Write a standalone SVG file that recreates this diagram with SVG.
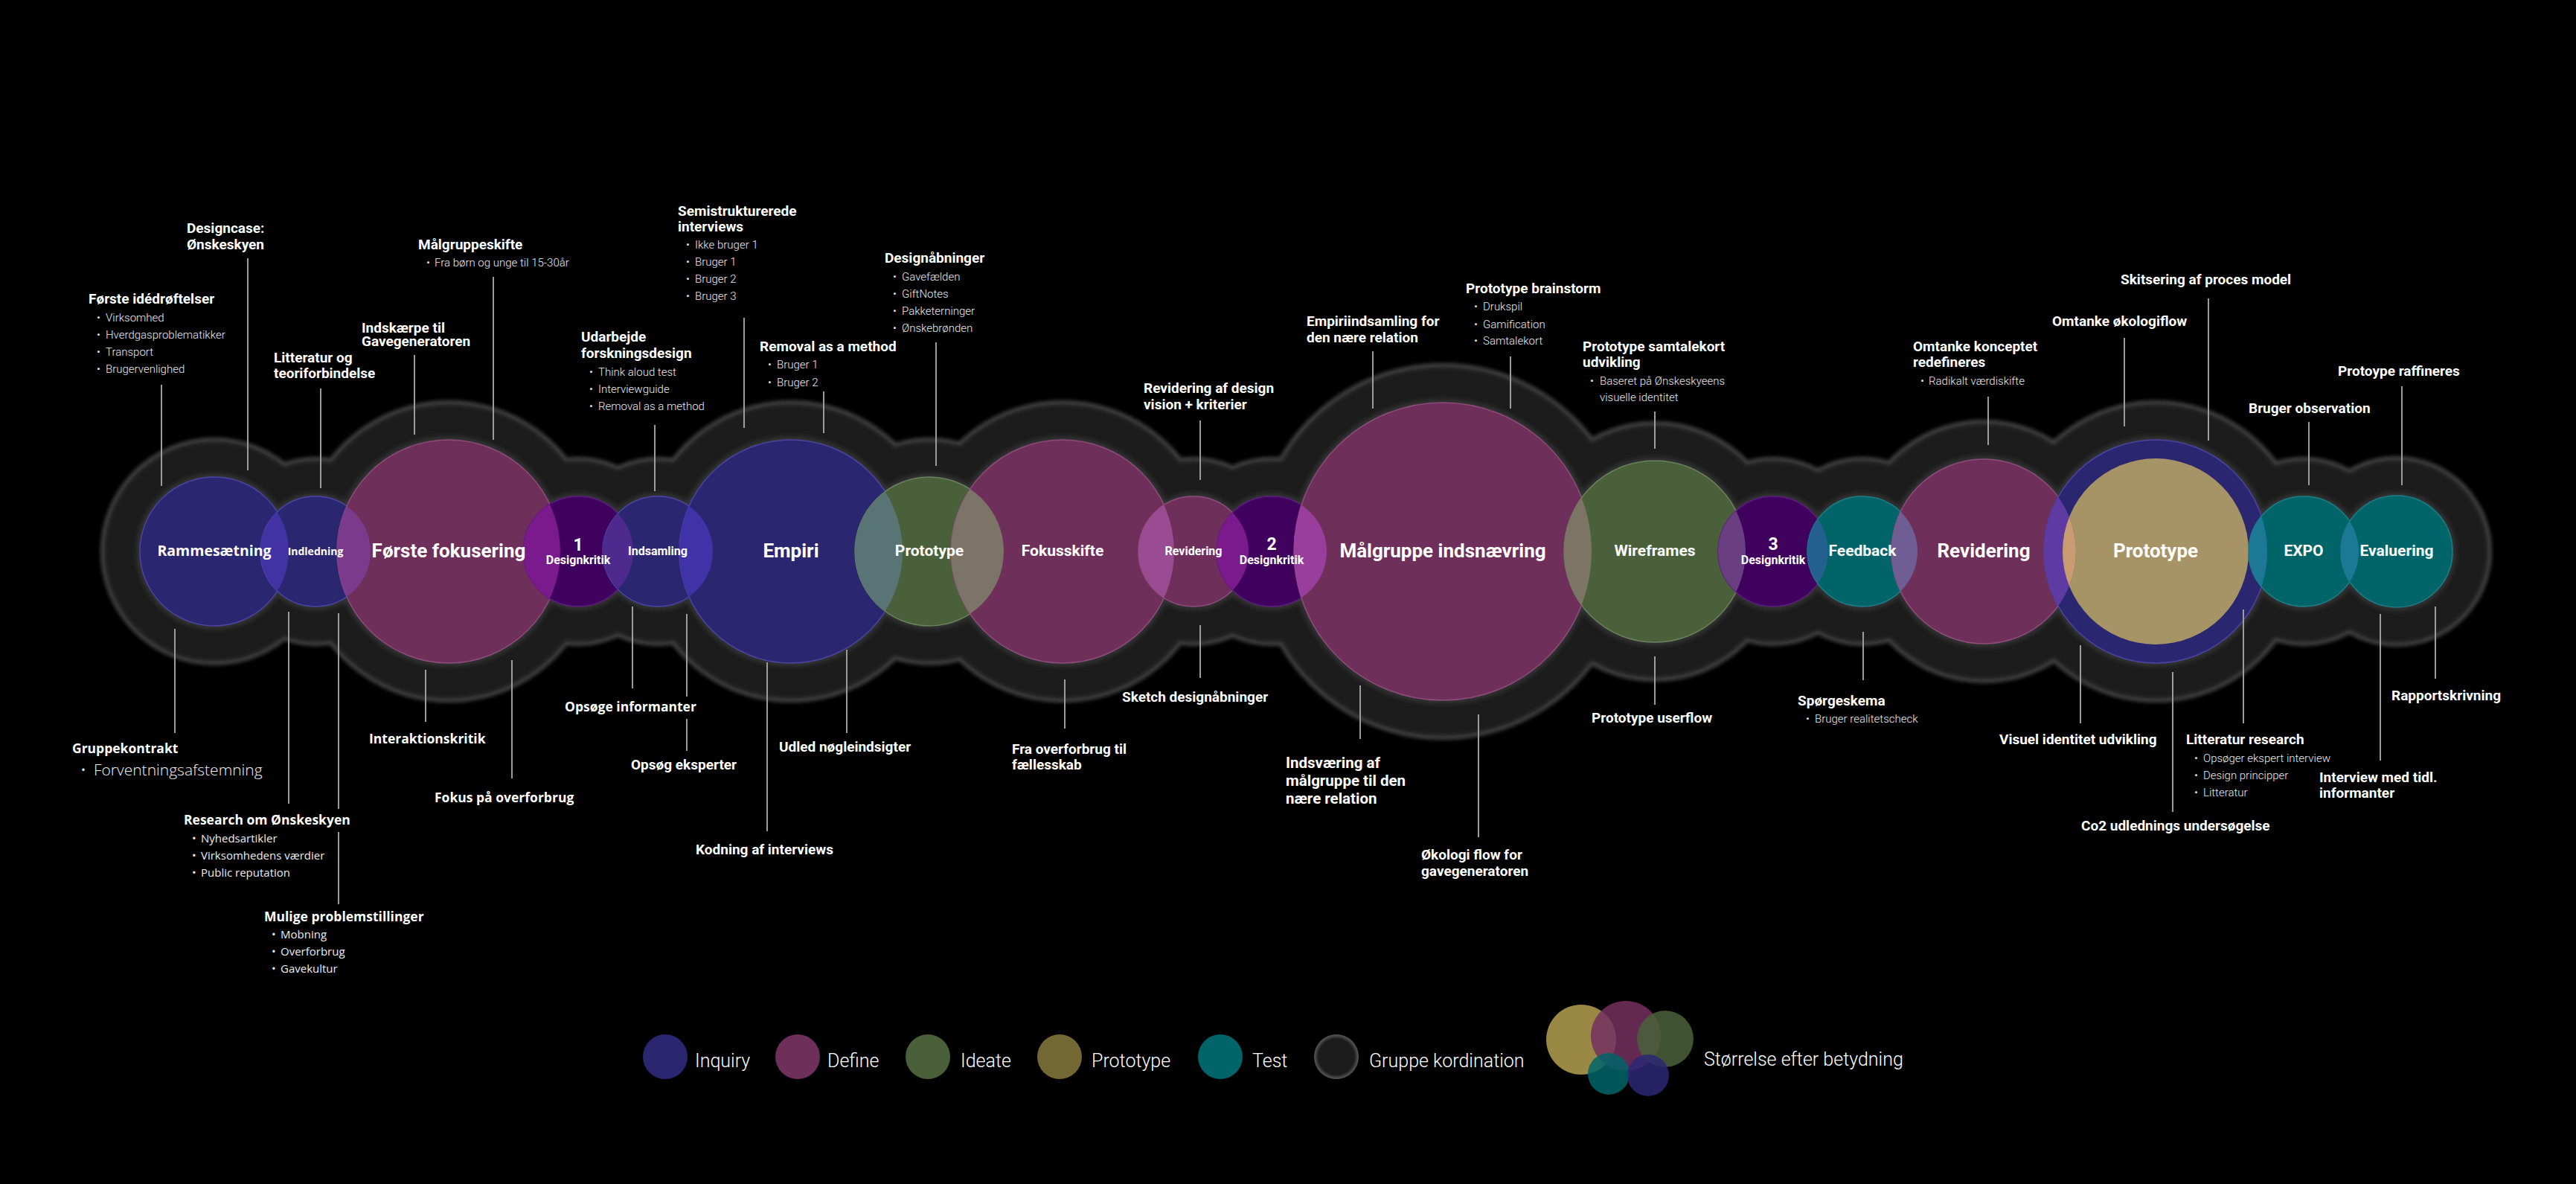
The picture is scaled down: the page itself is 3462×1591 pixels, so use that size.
<svg xmlns="http://www.w3.org/2000/svg" width="3462" height="1591" viewBox="0 0 3462 1591">
<style>
.t{font-family:Roboto,"Liberation Sans",Arial,sans-serif;font-weight:700;font-size:19px;fill:#fff}
.t2{font-family:Roboto,"Liberation Sans",Arial,sans-serif;font-weight:700;font-size:20.5px;fill:#fff}
.w{font-family:"Open Sans","Liberation Sans",Arial,sans-serif;font-weight:700;font-size:17.5px;fill:#fff}
.b{font-family:Roboto,"Liberation Sans",Arial,sans-serif;font-weight:300;font-size:15px;fill:#ececec}
.bw{font-family:"Open Sans","Liberation Sans",Arial,sans-serif;font-weight:400;font-size:15px;fill:#ececec}
.bw2{font-family:"Open Sans","Liberation Sans",Arial,sans-serif;font-weight:300;font-size:21px;fill:#f2f2f2}
.big{font-family:Roboto,"Liberation Sans",Arial,sans-serif;font-weight:700;font-size:26px;fill:#fff;text-anchor:middle}
.mid{font-family:Roboto,"Liberation Sans",Arial,sans-serif;font-weight:700;font-size:21px;fill:#fff;text-anchor:middle}
.sm{font-family:Roboto,"Liberation Sans",Arial,sans-serif;font-weight:700;font-size:16px;fill:#fff;text-anchor:middle}
.num{font-family:Roboto,"Liberation Sans",Arial,sans-serif;font-weight:700;font-size:23px;fill:#fff;text-anchor:middle}
.ram{font-family:"Open Sans","Liberation Sans",Arial,sans-serif;font-weight:700;font-size:19.5px;fill:#fff;text-anchor:middle}
.ind{font-family:"Open Sans","Liberation Sans",Arial,sans-serif;font-weight:700;font-size:14px;fill:#fff;text-anchor:middle}
.lg{font-family:Roboto,"Liberation Sans",Arial,sans-serif;font-weight:300;font-size:25px;fill:#fff}
.ln{stroke:#9c9c9c;stroke-width:2;fill:none}
.inq{fill:#2b2670;stroke:#4b44a6;stroke-width:1.5}
.def{fill:#6e2f5b;stroke:#8e4c7c;stroke-width:1.5}
.ide{fill:#4a603a;stroke:#6a825a;stroke-width:1.5}
.dk{fill:#40005e;stroke:#5e1c82;stroke-width:1.5}
.tst{fill:#006468;stroke:#1a8088;stroke-width:1.5}
.edge circle{fill:#444}
.fillg circle{fill:#1c1c1c}
.halo circle{fill:#383838}
</style>
<defs>
<filter id="bl" x="-5%" y="-20%" width="110%" height="140%"><feGaussianBlur stdDeviation="2.5"/></filter>
<filter id="bl2" x="-5%" y="-20%" width="110%" height="140%"><feGaussianBlur stdDeviation="3.5"/></filter>
<radialGradient id="gk"><stop offset="0.8" stop-color="#1c1c1c"/><stop offset="1" stop-color="#5a5a5a"/></radialGradient>
<clipPath id="c-ramme"><circle cx="288" cy="741" r="100"/></clipPath>
<clipPath id="c-indl"><circle cx="424" cy="741" r="74"/></clipPath>
<clipPath id="c-forste"><circle cx="603" cy="741" r="150"/></clipPath>
<clipPath id="c-dk1"><circle cx="777" cy="741" r="74"/></clipPath>
<clipPath id="c-inds"><circle cx="884" cy="741" r="74"/></clipPath>
<clipPath id="c-empiri"><circle cx="1063" cy="741" r="150"/></clipPath>
<clipPath id="c-proto1"><circle cx="1249" cy="741" r="100"/></clipPath>
<clipPath id="c-fokus"><circle cx="1428" cy="741" r="150"/></clipPath>
<clipPath id="c-rev1"><circle cx="1604" cy="741" r="74"/></clipPath>
<clipPath id="c-dk2"><circle cx="1709" cy="741" r="74"/></clipPath>
<clipPath id="c-maal"><circle cx="1939" cy="741" r="200"/></clipPath>
<clipPath id="c-wire"><circle cx="2224" cy="741" r="122"/></clipPath>
<clipPath id="c-dk3"><circle cx="2383" cy="741" r="74"/></clipPath>
<clipPath id="c-feed"><circle cx="2503" cy="741" r="74"/></clipPath>
<clipPath id="c-rev2"><circle cx="2666" cy="741" r="124"/></clipPath>
<clipPath id="c-protoB"><circle cx="2897" cy="741" r="150"/></clipPath>
<clipPath id="c-beige"><circle cx="2897" cy="741" r="125"/></clipPath>
<clipPath id="c-expo"><circle cx="3096" cy="741" r="74"/></clipPath>
</defs>
<rect width="3462" height="1591" fill="#000"/>

<g id="gruppe-kordination-band">
<g class="edge" filter="url(#bl)">
<circle cx="288" cy="741" r="153"/><circle cx="424" cy="741" r="127"/><circle cx="603" cy="741" r="203"/><circle cx="777" cy="741" r="127"/><circle cx="884" cy="741" r="127"/><circle cx="1063" cy="741" r="203"/><circle cx="1249" cy="741" r="153"/><circle cx="1428" cy="741" r="203"/><circle cx="1604" cy="741" r="127"/><circle cx="1709" cy="741" r="127"/><circle cx="1939" cy="741" r="253"/><circle cx="2224" cy="741" r="175"/><circle cx="2383" cy="741" r="127"/><circle cx="2503" cy="741" r="127"/><circle cx="2666" cy="741" r="177"/><circle cx="2897" cy="741" r="203"/><circle cx="3096" cy="741" r="127"/><circle cx="3221" cy="741" r="128"/>
</g>
<g class="fillg" filter="url(#bl)">
<circle cx="288" cy="741" r="148"/><circle cx="424" cy="741" r="122"/><circle cx="603" cy="741" r="198"/><circle cx="777" cy="741" r="122"/><circle cx="884" cy="741" r="122"/><circle cx="1063" cy="741" r="198"/><circle cx="1249" cy="741" r="148"/><circle cx="1428" cy="741" r="198"/><circle cx="1604" cy="741" r="122"/><circle cx="1709" cy="741" r="122"/><circle cx="1939" cy="741" r="248"/><circle cx="2224" cy="741" r="170"/><circle cx="2383" cy="741" r="122"/><circle cx="2503" cy="741" r="122"/><circle cx="2666" cy="741" r="172"/><circle cx="2897" cy="741" r="198"/><circle cx="3096" cy="741" r="122"/><circle cx="3221" cy="741" r="123"/>
</g>
<g class="halo" filter="url(#bl2)">
<circle cx="288" cy="741" r="104"/><circle cx="424" cy="741" r="78"/><circle cx="603" cy="741" r="154"/><circle cx="777" cy="741" r="78"/><circle cx="884" cy="741" r="78"/><circle cx="1063" cy="741" r="154"/><circle cx="1249" cy="741" r="104"/><circle cx="1428" cy="741" r="154"/><circle cx="1604" cy="741" r="78"/><circle cx="1709" cy="741" r="78"/><circle cx="1939" cy="741" r="204"/><circle cx="2224" cy="741" r="126"/><circle cx="2383" cy="741" r="78"/><circle cx="2503" cy="741" r="78"/><circle cx="2666" cy="741" r="128"/><circle cx="2897" cy="741" r="154"/><circle cx="3096" cy="741" r="78"/><circle cx="3221" cy="741" r="79"/>
</g>
</g>

<g id="node-rammesaetning"><circle class="inq" cx="288" cy="741" r="100"/></g>
<g id="node-indledning"><circle class="inq" cx="424" cy="741" r="74"/></g>
<g id="node-forste-fokusering"><circle class="def" cx="603" cy="741" r="150"/></g>
<g id="node-designkritik-1"><circle class="dk" cx="777" cy="741" r="74"/></g>
<g id="node-indsamling"><circle class="inq" cx="884" cy="741" r="74"/></g>
<g id="node-empiri"><circle class="inq" cx="1063" cy="741" r="150"/></g>
<g id="node-prototype-1"><circle class="ide" cx="1249" cy="741" r="100"/></g>
<g id="node-fokusskifte"><circle class="def" cx="1428" cy="741" r="150"/></g>
<g id="node-revidering-1"><circle class="def" cx="1604" cy="741" r="74"/></g>
<g id="node-designkritik-2"><circle class="dk" cx="1709" cy="741" r="74"/></g>
<g id="node-malgruppe-indsnaevring"><circle class="def" cx="1939" cy="741" r="200"/></g>
<g id="node-wireframes"><circle class="ide" cx="2224" cy="741" r="122"/></g>
<g id="node-designkritik-3"><circle class="dk" cx="2383" cy="741" r="74"/></g>
<g id="node-feedback"><circle class="tst" cx="2503" cy="741" r="74"/></g>
<g id="node-revidering-2"><circle class="def" cx="2666" cy="741" r="124"/></g>
<g id="node-prototype-2"><circle class="inq" cx="2897" cy="741" r="150"/><circle cx="2897" cy="741" r="125" fill="#a69466"/></g>
<g id="node-expo"><circle class="tst" cx="3096" cy="741" r="74"/></g>
<g id="node-evaluering"><circle class="tst" cx="3221" cy="741" r="75"/></g>

<g id="overlaps">
<circle cx="424" cy="741" r="74" clip-path="url(#c-ramme)" fill="#4232a4"/>
<circle cx="603" cy="741" r="150" clip-path="url(#c-indl)" fill="#7b3a8c"/>
<circle cx="777" cy="741" r="74" clip-path="url(#c-forste)" fill="#7b1a8d"/>
<circle cx="884" cy="741" r="74" clip-path="url(#c-dk1)" fill="#4e2a8e"/>
<circle cx="1063" cy="741" r="150" clip-path="url(#c-inds)" fill="#4232a8"/>
<circle cx="1249" cy="741" r="100" clip-path="url(#c-empiri)" fill="#587475"/>
<circle cx="1428" cy="741" r="150" clip-path="url(#c-proto1)" fill="#7c7466"/>
<circle cx="1604" cy="741" r="74" clip-path="url(#c-fokus)" fill="#9a4b92"/>
<circle cx="1709" cy="741" r="74" clip-path="url(#c-rev1)" fill="#7b1a8d"/>
<circle cx="1939" cy="741" r="200" clip-path="url(#c-dk2)" fill="#993e9c"/>
<circle cx="2224" cy="741" r="122" clip-path="url(#c-maal)" fill="#7c7464"/>
<circle cx="2383" cy="741" r="74" clip-path="url(#c-wire)" fill="#6a3f82"/>
<circle cx="2503" cy="741" r="74" clip-path="url(#c-dk3)" fill="#24608e"/>
<circle cx="2666" cy="741" r="124" clip-path="url(#c-feed)" fill="#6f5e94"/>
<circle cx="2897" cy="741" r="150" clip-path="url(#c-rev2)" fill="#5e3ba2"/>
<circle cx="2897" cy="741" r="125" clip-path="url(#c-rev2)" fill="#c89b70"/>
<circle cx="3096" cy="741" r="74" clip-path="url(#c-protoB)" fill="#1d7896"/>
<circle cx="3221" cy="741" r="75" clip-path="url(#c-expo)" fill="#1d7896"/>
</g>

<g id="node-labels">
<text id="lbl-rammesaetning" class="ram" x="288" y="747">Rammesætning</text>
<text id="lbl-indledning" class="ind" x="424" y="746">Indledning</text>
<text id="lbl-forste" class="big" x="603" y="749">Første fokusering</text>
<g id="lbl-dk1"><text class="num" x="777" y="740">1</text><text class="sm" x="777" y="758">Designkritik</text></g>
<text id="lbl-indsamling" class="sm" x="884" y="746">Indsamling</text>
<text id="lbl-empiri" class="big" x="1063" y="749">Empiri</text>
<text id="lbl-prototype1" class="mid" x="1249" y="747">Prototype</text>
<text id="lbl-fokusskifte" class="mid" x="1428" y="747">Fokusskifte</text>
<text id="lbl-revidering1" class="sm" x="1604" y="746">Revidering</text>
<g id="lbl-dk2"><text class="num" x="1709" y="739">2</text><text class="sm" x="1709" y="758">Designkritik</text></g>
<text id="lbl-malgruppe" class="big" x="1939" y="749">Målgruppe indsnævring</text>
<text id="lbl-wireframes" class="mid" x="2224" y="747">Wireframes</text>
<g id="lbl-dk3"><text class="num" x="2383" y="739">3</text><text class="sm" x="2383" y="758">Designkritik</text></g>
<text id="lbl-feedback" class="mid" x="2503" y="747">Feedback</text>
<text id="lbl-revidering2" class="big" x="2666" y="749">Revidering</text>
<text id="lbl-prototype2" class="big" x="2897" y="749">Prototype</text>
<text id="lbl-expo" class="mid" x="3096" y="747">EXPO</text>
<text id="lbl-evaluering" class="mid" x="3221" y="747">Evaluering</text>
</g>

<g id="connectors">
<line class="ln" x1="333" y1="347" x2="333" y2="632"/>
<line class="ln" x1="663" y1="372" x2="663" y2="591"/>
<line class="ln" x1="217" y1="517" x2="217" y2="653"/>
<line class="ln" x1="557" y1="477" x2="557" y2="584"/>
<line class="ln" x1="431" y1="522" x2="431" y2="656"/>
<line class="ln" x1="1000" y1="427" x2="1000" y2="575"/>
<line class="ln" x1="880" y1="571" x2="880" y2="660"/>
<line class="ln" x1="1107" y1="526" x2="1107" y2="582"/>
<line class="ln" x1="1258" y1="460" x2="1258" y2="626"/>
<line class="ln" x1="1613" y1="565" x2="1613" y2="645"/>
<line class="ln" x1="1845" y1="472" x2="1845" y2="549"/>
<line class="ln" x1="2030" y1="479" x2="2030" y2="549"/>
<line class="ln" x1="2224" y1="553" x2="2224" y2="603"/>
<line class="ln" x1="2672" y1="533" x2="2672" y2="598"/>
<line class="ln" x1="2855" y1="454" x2="2855" y2="573"/>
<line class="ln" x1="2968" y1="401" x2="2968" y2="592"/>
<line class="ln" x1="3103" y1="567" x2="3103" y2="652"/>
<line class="ln" x1="3228" y1="519" x2="3228" y2="652"/>
<line class="ln" x1="235" y1="845" x2="235" y2="985"/>
<line class="ln" x1="388" y1="822" x2="388" y2="1080"/>
<line class="ln" x1="455" y1="824" x2="455" y2="1087"/>
<line class="ln" x1="455" y1="1118" x2="455" y2="1215"/>
<line class="ln" x1="572" y1="900" x2="572" y2="970"/>
<line class="ln" x1="688" y1="887" x2="688" y2="1046"/>
<line class="ln" x1="850" y1="815" x2="850" y2="925"/>
<line class="ln" x1="923" y1="825" x2="923" y2="936"/>
<line class="ln" x1="923" y1="966" x2="923" y2="1009"/>
<line class="ln" x1="1031" y1="890" x2="1031" y2="1117"/>
<line class="ln" x1="1138" y1="873" x2="1138" y2="985"/>
<line class="ln" x1="1431" y1="913" x2="1431" y2="979"/>
<line class="ln" x1="1613" y1="840" x2="1613" y2="911"/>
<line class="ln" x1="1828" y1="921" x2="1828" y2="993"/>
<line class="ln" x1="1987" y1="960" x2="1987" y2="1125"/>
<line class="ln" x1="2224" y1="882" x2="2224" y2="947"/>
<line class="ln" x1="2504" y1="849" x2="2504" y2="914"/>
<line class="ln" x1="2796" y1="867" x2="2796" y2="972"/>
<line class="ln" x1="2920" y1="903" x2="2920" y2="1091"/>
<line class="ln" x1="3015" y1="819" x2="3015" y2="972"/>
<line class="ln" x1="3199" y1="825" x2="3199" y2="1022"/>
<line class="ln" x1="3273" y1="815" x2="3273" y2="912"/>
</g>

<g id="annotations">
<g id="a-designcase"><text class="t" x="251" y="313">Designcase:</text><text class="t" x="251" y="335">Ønskeskyen</text></g>
<g id="a-malgruppeskifte"><text class="t" x="562" y="335">Målgruppeskifte</text><text class="b" x="573" y="358">•<tspan x="584">Fra børn og unge til 15-30år</tspan></text></g>
<g id="a-forste-ide"><text class="t" x="119" y="408">Første idédrøftelser</text>
<text class="b" x="130" y="432">•<tspan x="142">Virksomhed</tspan></text>
<text class="b" x="130" y="455">•<tspan x="142">Hverdgasproblematikker</tspan></text>
<text class="b" x="130" y="478">•<tspan x="142">Transport</tspan></text>
<text class="b" x="130" y="501">•<tspan x="142">Brugervenlighed</tspan></text></g>
<g id="a-indskaerpe"><text class="t" x="486" y="447">Indskærpe til</text><text class="t" x="486" y="465">Gavegeneratoren</text></g>
<g id="a-litteratur"><text class="t" x="368" y="487">Litteratur og</text><text class="t" x="368" y="508">teoriforbindelse</text></g>
<g id="a-semistruk"><text class="t" x="911" y="290">Semistrukturerede</text><text class="t" x="911" y="311">interviews</text>
<text class="b" x="922" y="334">•<tspan x="934">Ikke bruger 1</tspan></text>
<text class="b" x="922" y="357">•<tspan x="934">Bruger 1</tspan></text>
<text class="b" x="922" y="380">•<tspan x="934">Bruger 2</tspan></text>
<text class="b" x="922" y="403">•<tspan x="934">Bruger 3</tspan></text></g>
<g id="a-udarbejde"><text class="t" x="781" y="459">Udarbejde</text><text class="t" x="781" y="481">forskningsdesign</text>
<text class="b" x="792" y="505">•<tspan x="804">Think aloud test</tspan></text>
<text class="b" x="792" y="528">•<tspan x="804">Interviewguide</tspan></text>
<text class="b" x="792" y="551">•<tspan x="804">Removal as a method</tspan></text></g>
<g id="a-removal"><text class="t" x="1021" y="472">Removal as a method</text>
<text class="b" x="1032" y="495">•<tspan x="1044">Bruger 1</tspan></text>
<text class="b" x="1032" y="519">•<tspan x="1044">Bruger 2</tspan></text></g>
<g id="a-designabninger"><text class="t" x="1189" y="353">Designåbninger</text>
<text class="b" x="1200" y="377">•<tspan x="1212">Gavefælden</tspan></text>
<text class="b" x="1200" y="400">•<tspan x="1212">GiftNotes</tspan></text>
<text class="b" x="1200" y="423">•<tspan x="1212">Pakketerninger</tspan></text>
<text class="b" x="1200" y="446">•<tspan x="1212">Ønskebrønden</tspan></text></g>
<g id="a-revidering-design"><text class="t" x="1537" y="528">Revidering af design</text><text class="t" x="1537" y="550">vision + kriterier</text></g>
<g id="a-empiriindsamling"><text class="t" x="1756" y="438">Empiriindsamling for</text><text class="t" x="1756" y="460">den nære relation</text></g>
<g id="a-proto-brainstorm"><text class="t" x="1970" y="394">Prototype brainstorm</text>
<text class="b" x="1981" y="417">•<tspan x="1993">Drukspil</tspan></text>
<text class="b" x="1981" y="441">•<tspan x="1993">Gamification</tspan></text>
<text class="b" x="1981" y="463">•<tspan x="1993">Samtalekort</tspan></text></g>
<g id="a-proto-samtalekort"><text class="t" x="2127" y="472">Prototype samtalekort</text><text class="t" x="2127" y="493">udvikling</text>
<text class="b" x="2137" y="517">•<tspan x="2150">Baseret på Ønskeskyeens</tspan></text>
<text class="b" x="2150" y="539">visuelle identitet</text></g>
<g id="a-omtanke-koncept"><text class="t" x="2571" y="472">Omtanke konceptet</text><text class="t" x="2571" y="493">redefineres</text>
<text class="b" x="2581" y="517">•<tspan x="2592">Radikalt værdiskifte</tspan></text></g>
<g id="a-omtanke-oko"><text class="t" x="2758" y="438">Omtanke økologiflow</text></g>
<g id="a-skitsering"><text class="t" x="2850" y="382">Skitsering af proces model</text></g>
<g id="a-bruger-obs"><text class="t" x="3022" y="555">Bruger observation</text></g>
<g id="a-raffineres"><text class="t" x="3142" y="505">Protoype raffineres</text></g>

<g id="a-gruppekontrakt"><text class="w" x="97" y="1012">Gruppekontrakt</text><text class="bw2" x="108" y="1042">•<tspan x="126">Forventningsafstemning</tspan></text></g>
<g id="a-research"><text class="w" x="247" y="1108">Research om Ønskeskyen</text>
<text class="bw" x="258" y="1132">•<tspan x="270">Nyhedsartikler</tspan></text>
<text class="bw" x="258" y="1155">•<tspan x="270">Virksomhedens værdier</tspan></text>
<text class="bw" x="258" y="1178">•<tspan x="270">Public reputation</tspan></text></g>
<g id="a-mulige"><text class="w" x="355" y="1238">Mulige problemstillinger</text>
<text class="bw" x="365" y="1261">•<tspan x="377">Mobning</tspan></text>
<text class="bw" x="365" y="1284">•<tspan x="377">Overforbrug</tspan></text>
<text class="bw" x="365" y="1307">•<tspan x="377">Gavekultur</tspan></text></g>
<g id="a-interaktion"><text class="w" x="496" y="999">Interaktionskritik</text></g>
<g id="a-fokus-overforbrug"><text class="w" x="584" y="1078">Fokus på overforbrug</text></g>
<g id="a-opsoge-inf"><text class="w" x="759" y="956">Opsøge informanter</text></g>
<g id="a-opsog-eksp"><text class="t" x="848" y="1034">Opsøg eksperter</text></g>
<g id="a-kodning"><text class="t" x="935" y="1148">Kodning af interviews</text></g>
<g id="a-udled"><text class="t" x="1047" y="1010">Udled nøgleindsigter</text></g>
<g id="a-fra-overforbrug"><text class="t" x="1360" y="1013">Fra overforbrug til</text><text class="t" x="1360" y="1034">fællesskab</text></g>
<g id="a-sketch"><text class="t" x="1508" y="943">Sketch designåbninger</text></g>
<g id="a-indsvaering"><text class="t2" x="1728" y="1032">Indsværing af</text><text class="t2" x="1728" y="1056">målgruppe til den</text><text class="t2" x="1728" y="1080">nære relation</text></g>
<g id="a-okologi"><text class="t" x="1910" y="1155">Økologi flow for</text><text class="t" x="1910" y="1177">gavegeneratoren</text></g>
<g id="a-userflow"><text class="t" x="2139" y="971">Prototype userflow</text></g>
<g id="a-sporgeskema"><text class="t" x="2416" y="948">Spørgeskema</text><text class="b" x="2427" y="971">•<tspan x="2439">Bruger realitetscheck</tspan></text></g>
<g id="a-visuel"><text class="t" x="2687" y="1000">Visuel identitet udvikling</text></g>
<g id="a-co2"><text class="t" x="2797" y="1116">Co2 udlednings undersøgelse</text></g>
<g id="a-litt-research"><text class="t" x="2938" y="1000">Litteratur research</text>
<text class="b" x="2949" y="1024">•<tspan x="2961">Opsøger ekspert interview</tspan></text>
<text class="b" x="2949" y="1047">•<tspan x="2961">Design principper</tspan></text>
<text class="b" x="2949" y="1070">•<tspan x="2961">Litteratur</tspan></text></g>
<g id="a-interview-tidl"><text class="t" x="3117" y="1051">Interview med tidl.</text><text class="t" x="3117" y="1072">informanter</text></g>
<g id="a-rapport"><text class="t" x="3214" y="941">Rapportskrivning</text></g>
</g>

<g id="legend">
<g id="lg-inquiry"><circle cx="894" cy="1420" r="30" fill="#2b2670"/><text class="lg" x="934" y="1434">Inquiry</text></g>
<g id="lg-define"><circle cx="1072" cy="1420" r="30" fill="#6e2f5b"/><text class="lg" x="1112" y="1434">Define</text></g>
<g id="lg-ideate"><circle cx="1247" cy="1420" r="30" fill="#4a603a"/><text class="lg" x="1291" y="1434">Ideate</text></g>
<g id="lg-prototype"><circle cx="1424" cy="1420" r="30" fill="#736834"/><text class="lg" x="1467" y="1434">Prototype</text></g>
<g id="lg-test"><circle cx="1640" cy="1420" r="30" fill="#006468"/><text class="lg" x="1683" y="1434">Test</text></g>
<g id="lg-gruppe"><circle cx="1796" cy="1420" r="30" fill="url(#gk)"/><text class="lg" x="1840" y="1434">Gruppe kordination</text></g>
<g id="lg-storrelse">
<circle cx="2125" cy="1397" r="47" fill="#9a8845"/>
<circle cx="2185" cy="1392" r="47" fill="#74305f" fill-opacity="0.85"/>
<circle cx="2238" cy="1396" r="38" fill="#4a603a" fill-opacity="0.85"/>
<circle cx="2162" cy="1443" r="28" fill="#006468" fill-opacity="0.85"/>
<circle cx="2215" cy="1445" r="28" fill="#2c2774" fill-opacity="0.85"/>
<text class="lg" x="2290" y="1432">Størrelse efter betydning</text>
</g>
</g>
</svg>
